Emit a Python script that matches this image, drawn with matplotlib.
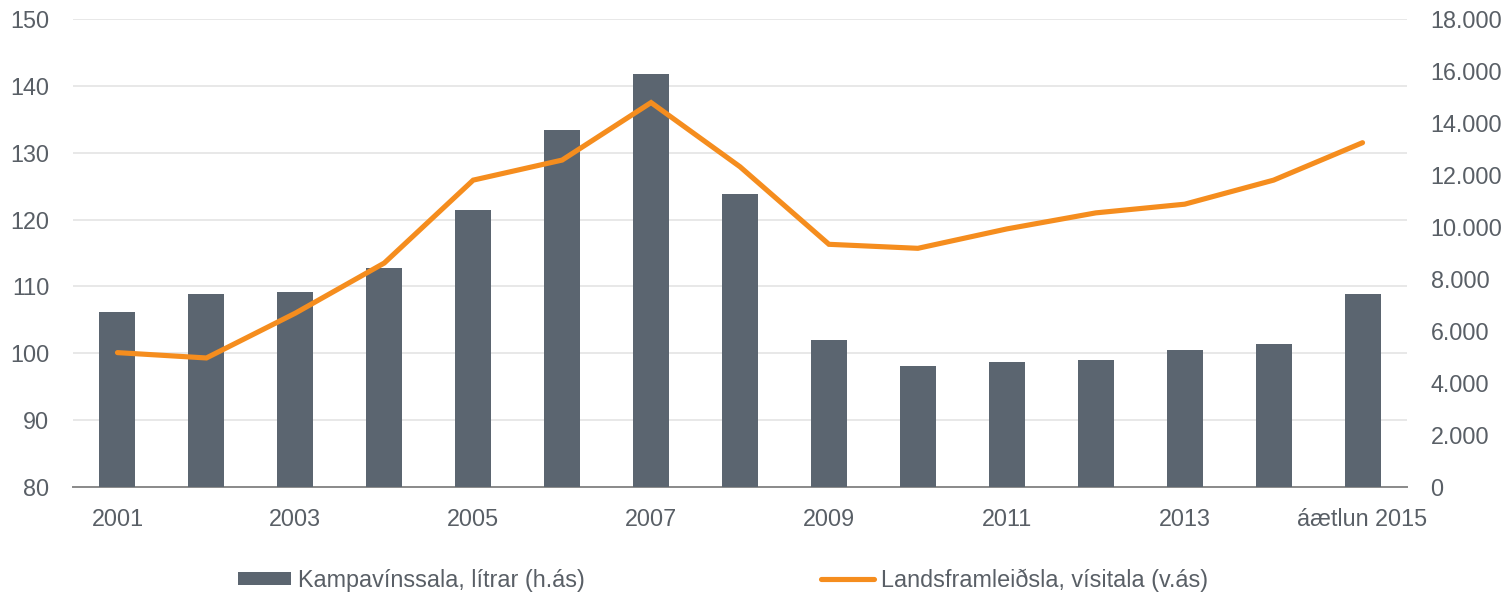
import numpy as np
import matplotlib
matplotlib.use("Agg")
import matplotlib.pyplot as plt
from matplotlib.patches import Patch
from matplotlib.lines import Line2D

plt.rcParams['font.family'] = ['Liberation Sans', 'DejaVu Sans']

# --- Gögn ---
years = ['2001', '2002', '2003', '2004', '2005', '2006', '2007', '2008',
         '2009', '2010', '2011', '2012', '2013', '2014', 'áætlun 2015']
kampavin = [6730, 7420, 7500, 8420, 10650, 13730, 15880, 11270,
            5650, 4650, 4810, 4880, 5270, 5500, 7420]          # lítrar (h.ás)
vlf = [100.1, 99.3, 106.0, 113.5, 125.9, 128.9, 137.5, 127.9,
       116.3, 115.7, 118.6, 121.0, 122.3, 125.9, 131.5]       # vísitala (v.ás)
left_ticks = [80, 90, 100, 110, 120, 130, 140, 150]
right_ticks = [0, 2000, 4000, 6000, 8000, 10000, 12000, 14000, 16000, 18000]

BAR_C = '#5b6570'
LINE_C = '#f58d1e'
TXT_C = '#595f66'
GRID_C = '#e6e6e6'

fig = plt.figure(figsize=(15.07, 5.94), dpi=100)
ax = fig.add_axes([73 / 1507, 1 - 487 / 594, (1407 - 73) / 1507, (487 - 19) / 594])
x = np.arange(len(years))

# Vinstri ás: hnitanet og merki
ax.set_ylim(80, 150)
ax.set_yticks(left_ticks)
ax.set_xlim(-0.5, len(years) - 0.5)
ax.grid(axis='y', color=GRID_C, linewidth=1.3)
ax.set_axisbelow(True)
for s in ['top', 'right', 'left']:
    ax.spines[s].set_visible(False)
ax.spines['bottom'].set_color('#8a8a8a')
ax.spines['bottom'].set_linewidth(1.4)
ax.tick_params(axis='y', length=0, pad=17, labelsize=16.8, labelcolor=TXT_C)
ax.set_xticks(x)
ax.set_xticklabels([y if i % 2 == 0 else '' for i, y in enumerate(years)])
ax.tick_params(axis='x', length=0, pad=15, labelsize=16.8, labelcolor=TXT_C)

# Hægri ás: súlur
axb = ax.twinx()
axb.bar(x, kampavin, width=0.405, color=BAR_C, zorder=2)
axb.set_ylim(0, 18000)
axb.set_yticks(right_ticks)
axb.set_yticklabels([f'{v:,}'.replace(',', '.') for v in right_ticks])
axb.tick_params(axis='y', length=0, pad=17, labelsize=16.8, labelcolor=TXT_C)
for s in axb.spines.values():
    s.set_visible(False)

# Lína ofan á súlum
axl = ax.twinx()
axl.plot(x, vlf, color=LINE_C, linewidth=3.7, solid_capstyle='round',
         solid_joinstyle='miter')
axl.set_ylim(80, 150)
axl.set_yticks([])
for s in axl.spines.values():
    s.set_visible(False)

handles = [Patch(facecolor=BAR_C, edgecolor='none'),
           Line2D([0], [0], color=LINE_C, linewidth=3.7, solid_capstyle='round')]
labels = ['Kampavínssala, lítrar (h.ás)', 'Landsframleiðsla, vísitala (v.ás)']
leg = fig.legend(handles, labels, loc='center', bbox_to_anchor=(723 / 1507, 1 - 580 / 594),
                 ncol=2, frameon=False, fontsize=16.8, handlelength=2.27,
                 handleheight=0.5, handletextpad=0.3, columnspacing=10.1)
for t in leg.get_texts():
    t.set_color(TXT_C)

fig.savefig('out.png', dpi=100)
